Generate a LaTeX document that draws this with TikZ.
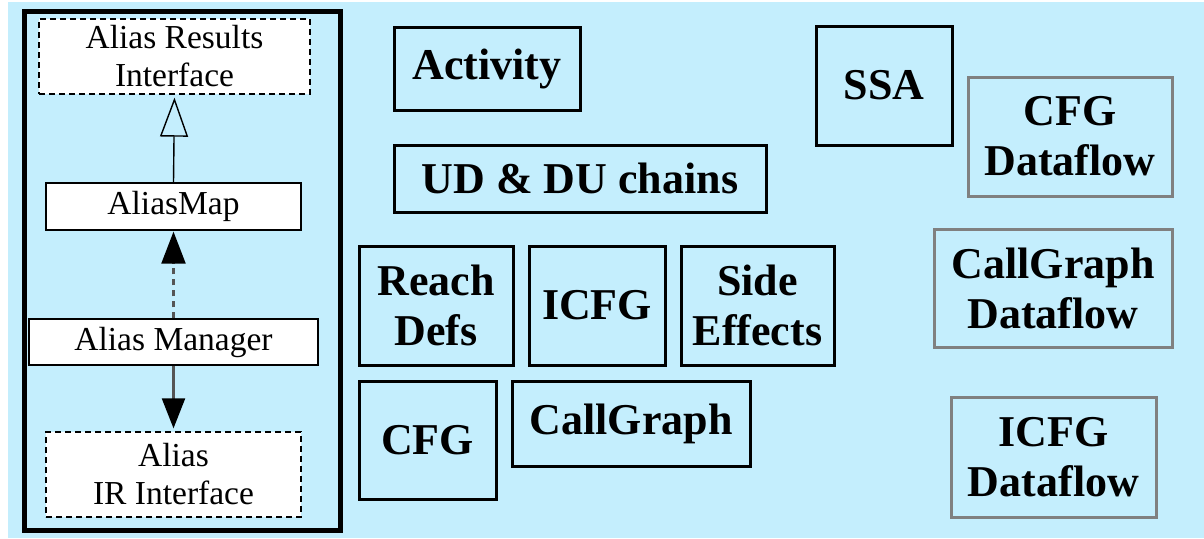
\documentclass[tikz,border=0pt]{standalone}
\usepackage{fontspec}
\setmainfont{Liberation Serif}
\usetikzlibrary{arrows.meta}
\definecolor{bgblue}{RGB}{196,238,253}
\definecolor{dfgray}{RGB}{128,128,128}
\definecolor{lngray}{RGB}{85,85,85}
\begin{document}
\begin{tikzpicture}[x=1pt,y=-1pt,
  bbox/.style={draw=black, line width=3pt, inner sep=0pt, align=center,
    font=\fontsize{44}{50}\selectfont\bfseries},
  dfbox/.style={bbox, draw=dfgray},
  ifbox/.style={draw=black, line width=1.3pt, dash pattern=on 6pt off 4pt, fill=white,
    inner sep=0pt, align=center, font=\fontsize{33.5}{38}\selectfont},
  clbox/.style={draw=black, line width=1.3pt, fill=white, inner sep=0pt, align=center,
    font=\fontsize{33.5}{38}\selectfont},
  conn/.style={draw=lngray, line width=2.2pt}
]
\useasboundingbox (0,0) rectangle (1204,538);
\fill[white] (0,0) rectangle (1204,538);
\fill[bgblue] (8,2) rectangle (1204,538);

% left panel
\node[draw=black, line width=3pt, minimum width=318pt, minimum height=521pt, inner sep=0pt]
  (panel) at (182.5,271) {};
\draw[line width=1.3pt] ([shift={(4pt,-4pt)}]panel.north west) rectangle ([shift={(-4pt,4pt)}]panel.south east);

\node[ifbox, minimum width=271pt, minimum height=75pt] (results) at (174.5,56.5) {Alias Results\\Interface};
\node[clbox, minimum width=255pt, minimum height=47pt] (aliasmap) at (173.5,206.5) {AliasMap};
\node[clbox, minimum width=289pt, minimum height=46pt] (manager) at (173.5,342) {Alias Manager};
\node[ifbox, minimum width=255pt, minimum height=85pt] (ir) at (173.5,474.5) {Alias\\IR Interface};

\draw[conn, draw=black, line width=1.4pt, -{Triangle[open, length=39pt, width=28pt, line width=1.4pt]}, shorten >=3pt]
  (aliasmap.north) -- (results.south);
\draw[conn, dash pattern=on 6pt off 5pt, -{Triangle[length=32pt, width=24pt, fill=black, color=black]}, shorten >=1pt]
  (manager.north) -- (aliasmap.south);
\draw[conn, -{Triangle[length=30pt, width=23pt, fill=black, color=black]}, shorten >=3pt]
  (manager.south) -- (ir.north);

% middle boxes
\node[bbox, minimum width=186pt, minimum height=83pt] (activity) at (487,68.5) {Activity};
\node[bbox, minimum width=372pt, minimum height=67pt] (udchains) at (580,178.5) {UD \& DU chains};
\node[bbox, minimum width=154pt, minimum height=119pt] (reach) at (436,305.5) {Reach\\Defs};
\node[bbox, minimum width=136pt, minimum height=119pt] (icfg) at (597,305.5) {ICFG};
\node[bbox, minimum width=153pt, minimum height=119pt] (side) at (757.5,305.5) {Side\\Effects};
\node[bbox, minimum width=137pt, minimum height=118pt] (cfg) at (427.5,440) {CFG};
\node[bbox, minimum width=238pt, minimum height=85pt] (callgraph) at (631,423.5) {CallGraph};

% right boxes
\node[bbox, minimum width=136pt, minimum height=119pt] (ssa) at (884,85.5) {SSA};
\node[dfbox, minimum width=204pt, minimum height=119pt] (cfgdf) at (1070,136.5) {CFG\\Dataflow};
\node[dfbox, minimum width=238pt, minimum height=118pt] (cgdf) at (1053,288) {CallGraph\\Dataflow};
\node[dfbox, minimum width=205pt, minimum height=120pt] (icfgdf) at (1053.5,457) {ICFG\\Dataflow};
\end{tikzpicture}
\end{document}
